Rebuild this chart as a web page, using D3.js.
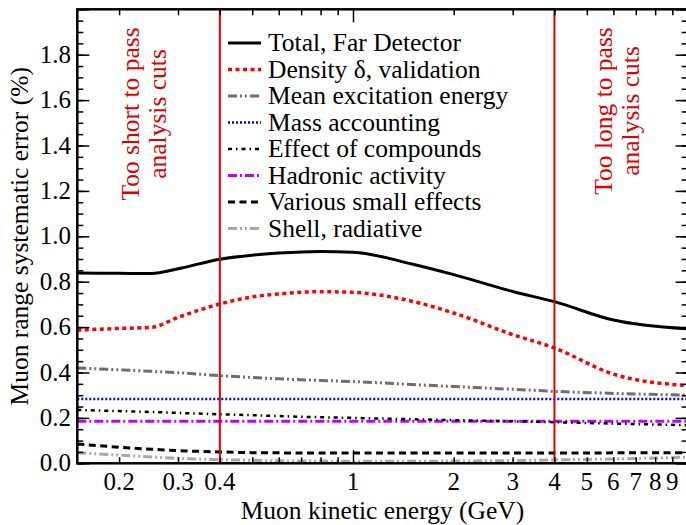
<!DOCTYPE html>
<html>
<head>
<meta charset="utf-8">
<script src="https://cdn.jsdelivr.net/npm/d3@7"></script>
<style>
  html, body { margin: 0; padding: 0; background: #fff; }
  svg { display: block; font-family: "Liberation Serif", "Times New Roman", serif; }
</style>
</head>
<body>
<svg id="chart" width="686" height="525"></svg>
<script>
// Muon kinetic energy grid (GeV)
const energies = [0.15, 0.2, 0.25, 0.3, 0.4, 0.5, 0.6, 0.8, 1, 1.5, 2, 3, 4, 6, 10];

// Systematic error contributions (%)
const total     = [0.838, 0.837, 0.836, 0.857, 0.899, 0.917, 0.926, 0.933, 0.930, 0.878, 0.831, 0.757, 0.712, 0.631, 0.592];
const density   = [0.587, 0.594, 0.599, 0.643, 0.702, 0.733, 0.746, 0.756, 0.753, 0.714, 0.662, 0.567, 0.508, 0.393, 0.342];
const meanExc   = [0.420, 0.412, 0.405, 0.399, 0.386, 0.378, 0.372, 0.365, 0.360, 0.347, 0.338, 0.326, 0.317, 0.308, 0.300];
const mass      = [0.283, 0.283, 0.283, 0.283, 0.283, 0.283, 0.283, 0.283, 0.283, 0.283, 0.283, 0.283, 0.283, 0.283, 0.283];
const compounds = [0.235, 0.230, 0.226, 0.222, 0.216, 0.212, 0.208, 0.203, 0.200, 0.194, 0.190, 0.185, 0.181, 0.175, 0.168];
const hadronic  = [0.185, 0.185, 0.185, 0.185, 0.185, 0.185, 0.185, 0.185, 0.185, 0.185, 0.185, 0.185, 0.185, 0.185, 0.185];
const various   = [0.085, 0.071, 0.062, 0.056, 0.050, 0.047, 0.046, 0.045, 0.045, 0.045, 0.045, 0.045, 0.045, 0.046, 0.047];
const shell     = [0.047, 0.036, 0.028, 0.022, 0.016, 0.013, 0.011, 0.010, 0.009, 0.009, 0.010, 0.012, 0.015, 0.019, 0.027];

const seriesNames = [
  "Total, Far Detector", "Density \u03b4, validation", "Mean excitation energy",
  "Mass accounting", "Effect of compounds", "Hadronic activity",
  "Various small effects", "Shell, radiative"
];
const seriesValues = [total, density, meanExc, mass, compounds, hadronic, various, shell];

// Axis ticks
const xLabelTicks = [0.2, 0.3, 0.4, 1, 2, 3, 4, 5, 6, 7, 8, 9];
const xMinorTicks = [0.2, 0.3, 0.4, 0.5, 0.6, 0.7, 0.8, 0.9, 2, 3, 4, 5, 6, 7, 8, 9];
const xMajorTicks = [1];
const yLabelTicks = [0.0, 0.2, 0.4, 0.6, 0.8, 1.0, 1.2, 1.4, 1.6, 1.8];
const cutEnergies = [0.4, 4];
const cutLabels = [["Too short to pass", "analysis cuts"], ["Too long to pass", "analysis cuts"]];

// Line styles per series
const styles = [
  { color: "#000000", width: 3,   dash: null },
  { color: "#ff0000", width: 3.5, dash: "4,3.5" },
  { color: "#6e6e6e", width: 3,   dash: "9,3,2,3,2,3" },
  { color: "#0000ff", width: 2.5, dash: "2,2" },
  { color: "#000000", width: 2.5, dash: "4,4,1.5,4" },
  { color: "#c000ff", width: 3,   dash: "9,3,2,3" },
  { color: "#000000", width: 3,   dash: "7,4.5" },
  { color: "#a8a8a8", width: 3,   dash: "9,3,2,3,2,3" }
];

const textSize = 25.5;
const tickSize = 25;

const svg = d3.select("#chart");
const pLeft = 77.3, pRight = 687.6, pTop = 9.3, pBottom = 463.3;

const x = d3.scaleLog().domain([0.15, 10]).range([pLeft, pRight]);
const y = d3.scaleLinear().domain([0, 2]).range([pBottom, pTop]);

svg.append("defs").append("clipPath").attr("id", "plot-clip")
  .append("rect").attr("x", pLeft).attr("y", pTop)
  .attr("width", pRight - pLeft).attr("height", pBottom - pTop);

// Series curves
const line = d3.line()
  .x((d, i) => x(energies[i]))
  .y(d => y(d))
  .curve(d3.curveMonotoneX);

const plot = svg.append("g").attr("clip-path", "url(#plot-clip)");
seriesValues.slice().reverse().forEach((vals, ri) => {
  const i = seriesValues.length - 1 - ri;
  const s = styles[i];
  plot.append("path")
    .datum(vals)
    .attr("d", line)
    .attr("fill", "none")
    .attr("stroke", s.color)
    .attr("stroke-width", s.width)
    .attr("stroke-dasharray", s.dash)
    .attr("stroke-linejoin", "round");
});

// Analysis cut lines
plot.selectAll("line.cut").data(cutEnergies).join("line")
  .attr("class", "cut")
  .attr("x1", d => x(d)).attr("x2", d => x(d))
  .attr("y1", pTop).attr("y2", pBottom)
  .attr("stroke", "#e00000").attr("stroke-width", 2);

// Cut annotations (rotated)
const cutText = [
  { xs: [139, 166], cy: 114 },
  { xs: [612, 639], cy: 111 }
];
cutLabels.forEach((lines, k) => {
  lines.forEach((t, j) => {
    svg.append("text")
      .attr("transform", `translate(${cutText[k].xs[j]},${cutText[k].cy}) rotate(-90)`)
      .attr("text-anchor", "middle")
      .attr("font-size", textSize)
      .attr("fill", "#e00000")
      .text(t);
  });
});

// Axes: ticks point inward on all four sides
function styleAxis(g) {
  g.select(".domain").remove();
  g.selectAll(".tick line").attr("stroke", "#000").attr("stroke-width", 1.5);
}

svg.append("g").attr("transform", `translate(0,${pBottom})`)
  .call(d3.axisBottom(x).tickValues(xMinorTicks).tickSizeInner(-6).tickSizeOuter(0).tickFormat(""))
  .call(styleAxis);
svg.append("g").attr("transform", `translate(0,${pBottom})`)
  .call(d3.axisBottom(x).tickValues(xMajorTicks).tickSizeInner(-13).tickSizeOuter(0).tickFormat(""))
  .call(styleAxis);
svg.append("g").attr("transform", `translate(0,${pTop})`)
  .call(d3.axisTop(x).tickValues(xMinorTicks).tickSizeInner(-6).tickSizeOuter(0).tickFormat(""))
  .call(styleAxis);
svg.append("g").attr("transform", `translate(0,${pTop})`)
  .call(d3.axisTop(x).tickValues(xMajorTicks).tickSizeInner(-13).tickSizeOuter(0).tickFormat(""))
  .call(styleAxis);

const yMinor = d3.range(0, 2.0001, 0.05).map(v => +v.toFixed(2));
const yMajor = d3.range(0, 2.0001, 0.2).map(v => +v.toFixed(2));
svg.append("g").attr("transform", `translate(${pLeft},0)`)
  .call(d3.axisLeft(y).tickValues(yMinor).tickSizeInner(-6).tickSizeOuter(0).tickFormat(""))
  .call(styleAxis);
svg.append("g").attr("transform", `translate(${pLeft},0)`)
  .call(d3.axisLeft(y).tickValues(yMajor).tickSizeInner(-12).tickSizeOuter(0).tickFormat(""))
  .call(styleAxis);
svg.append("g").attr("transform", `translate(${pRight},0)`)
  .call(d3.axisRight(y).tickValues(yMinor).tickSizeInner(-6).tickSizeOuter(0).tickFormat(""))
  .call(styleAxis);
svg.append("g").attr("transform", `translate(${pRight},0)`)
  .call(d3.axisRight(y).tickValues(yMajor).tickSizeInner(-12).tickSizeOuter(0).tickFormat(""))
  .call(styleAxis);

// Frame
svg.append("rect")
  .attr("x", pLeft).attr("y", pTop)
  .attr("width", pRight - pLeft).attr("height", pBottom - pTop)
  .attr("fill", "none").attr("stroke", "#000").attr("stroke-width", 2.5);

// Tick labels
svg.append("g").selectAll("text").data(xLabelTicks).join("text")
  .attr("x", d => x(d)).attr("y", 490)
  .attr("text-anchor", "middle").attr("font-size", tickSize)
  .text(d => d < 1 ? d3.format(".1f")(d) : d3.format("d")(d));

svg.append("g").selectAll("text").data(yLabelTicks).join("text")
  .attr("x", 71).attr("y", d => y(d) + 8)
  .attr("text-anchor", "end").attr("font-size", tickSize)
  .text(d => d3.format(".1f")(d));

// Axis titles
svg.append("text")
  .attr("x", (pLeft + pRight) / 2).attr("y", 518.5)
  .attr("text-anchor", "middle").attr("font-size", textSize)
  .text("Muon kinetic energy (GeV)");
svg.append("text")
  .attr("transform", `translate(28,${(pTop + pBottom) / 2}) rotate(-90)`)
  .attr("text-anchor", "middle").attr("font-size", textSize)
  .text("Muon range systematic error (%)");

// Legend
const legend = svg.append("g");
seriesNames.forEach((name, i) => {
  const ly = 43 + i * 26.5;
  const s = styles[i];
  legend.append("line")
    .attr("x1", 228).attr("x2", 261).attr("y1", ly).attr("y2", ly)
    .attr("stroke", s.color).attr("stroke-width", s.width)
    .attr("stroke-dasharray", s.dash);
  legend.append("text")
    .attr("x", 268).attr("y", ly + 8)
    .attr("font-size", textSize)
    .text(name);
});
</script>
</body>
</html>
